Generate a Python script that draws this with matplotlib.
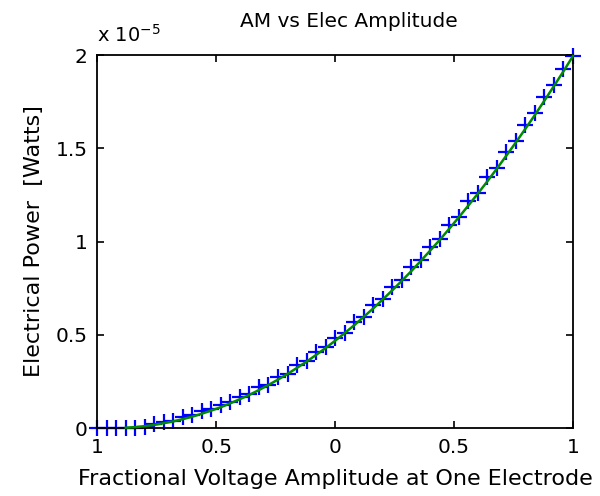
import numpy as np
import matplotlib.pyplot as plt

plt.rcParams['font.family'] = ['DejaVu Sans']

# fractional voltage amplitude
x = [-1.00, -0.96, -0.92, -0.88, -0.84, -0.80, -0.76, -0.72, -0.68, -0.64,
     -0.60, -0.56, -0.52, -0.48, -0.44, -0.40, -0.36, -0.32, -0.28, -0.24,
     -0.20, -0.16, -0.12, -0.08, -0.04, 0.00, 0.04, 0.08, 0.12, 0.16,
     0.20, 0.24, 0.28, 0.32, 0.36, 0.40, 0.44, 0.48, 0.52, 0.56,
     0.60, 0.64, 0.68, 0.72, 0.76, 0.80, 0.84, 0.88, 0.92, 0.96, 1.00]

# measured power (x 1e-5 W)
p_meas = [0.000, 0.000, 0.000, 0.000, 0.000, 0.006, 0.020, 0.035, 0.040, 0.058,
          0.068, 0.090, 0.100, 0.125, 0.138, 0.168, 0.182, 0.218, 0.232, 0.272,
          0.292, 0.338, 0.358, 0.408, 0.432, 0.485, 0.512, 0.568, 0.598, 0.660,
          0.692, 0.758, 0.792, 0.862, 0.900, 0.972, 1.012, 1.090, 1.132, 1.215,
          1.262, 1.345, 1.395, 1.482, 1.538, 1.625, 1.688, 1.775, 1.840, 1.925, 1.995]

# fitted curve (x 1e-5 W)
xf = x[3:]
p_fit = [0.002, 0.005, 0.010, 0.017, 0.026, 0.036, 0.048,
         0.061, 0.077, 0.094, 0.112, 0.133, 0.155, 0.178, 0.204, 0.231, 0.260,
         0.290, 0.323, 0.356, 0.392, 0.429, 0.468, 0.509, 0.551, 0.596, 0.641,
         0.689, 0.738, 0.789, 0.841, 0.896, 0.952, 1.009, 1.069, 1.130, 1.193,
         1.257, 1.323, 1.391, 1.461, 1.532, 1.605, 1.679, 1.756, 1.834, 1.913, 1.995]

xticks = [-1, -0.5, 0, 0.5, 1]
xtick_labels = ['1', '0.5', '0', '0.5', '1']
yticks = [0, 0.5, 1, 1.5, 2]
ytick_labels = ['0', '0.5', '1', '1.5', '2']

fig = plt.figure(figsize=(6, 4.96), dpi=100)
ax = fig.add_axes([0.162, 0.137, 0.793, 0.752])

ax.plot(x, p_meas, '+', color='blue', ms=11, mew=1.6, zorder=2, clip_on=False)
ax.plot(xf, p_fit, '-', color=(0, 0.55, 0), lw=1.8, zorder=3, clip_on=False)

ax.set_xlim(-1, 1)
ax.set_ylim(0, 2)
ax.set_xticks(xticks)
ax.set_xticklabels(xtick_labels)
ax.set_yticks(yticks)
ax.set_yticklabels(ytick_labels)
ax.tick_params(direction='in', top=True, right=True, labelsize=14.5, length=5, width=1.2, pad=7)
for s in ax.spines.values():
    s.set_linewidth(1.3)

ax.set_title('AM vs Elec Amplitude', fontsize=14.5, pad=20, x=0.53)
ax.set_xlabel('Fractional Voltage Amplitude at One Electrode', fontsize=16, labelpad=9)
ax.set_ylabel('Electrical Power  [Watts]', fontsize=16, labelpad=8)
ax.text(0.0, 1.025, 'x 10$^{-5}$', transform=ax.transAxes, fontsize=14, ha='left', va='bottom')

fig.savefig('out.png', dpi=100)
